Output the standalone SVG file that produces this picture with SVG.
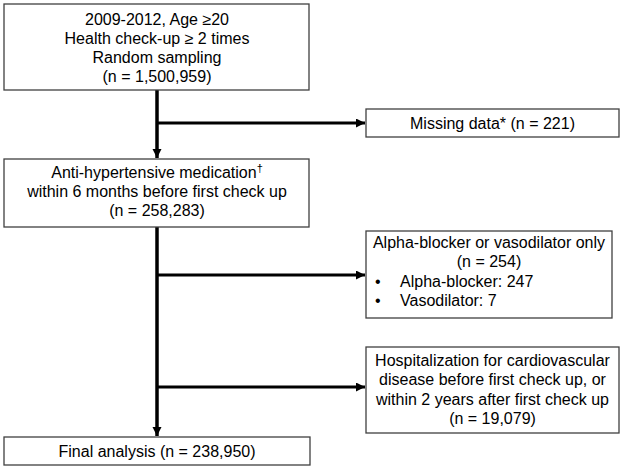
<svg xmlns="http://www.w3.org/2000/svg" width="624" height="470" viewBox="0 0 624 470">
<style>
.box{fill:#fff;stroke:#404040;stroke-width:1.3}
text{font-family:"Liberation Sans",Arial,sans-serif;font-size:16px;fill:#000}
.c{text-anchor:middle}
.ln{stroke:#000;stroke-width:3.5;fill:none}
.br{stroke:#000;stroke-width:3;fill:none}
</style>
<defs>
<marker id="ah" markerUnits="userSpaceOnUse" markerWidth="10" markerHeight="10" refX="9" refY="4.5" orient="auto">
<path d="M0,0 L9,4.5 L0,9 z" fill="#000"/>
</marker>
</defs>
<rect width="624" height="470" fill="#fff"/>
<g id="connectors">
<line class="ln" x1="157" y1="90" x2="157" y2="158" marker-end="url(#ah)"/>
<line class="br" x1="157" y1="123" x2="365" y2="123" marker-end="url(#ah)"/>
<line class="ln" x1="157" y1="227" x2="157" y2="436" marker-end="url(#ah)"/>
<line class="br" x1="157" y1="275" x2="365" y2="275" marker-end="url(#ah)"/>
<line class="br" x1="157" y1="387" x2="365" y2="387" marker-end="url(#ah)"/>
</g>
<g id="n1">
<rect class="box" x="4" y="4" width="305" height="86"/>
<text class="c" x="157" y="25">2009-2012, Age ≥20</text>
<text class="c" x="157" y="44">Health check-up ≥ 2 times</text>
<text class="c" x="157" y="63">Random sampling</text>
<text class="c" x="157" y="82">(n = 1,500,959)</text>
</g>
<g id="n2">
<rect class="box" x="366" y="109" width="253" height="28"/>
<text class="c" x="492.5" y="128.5">Missing data* (n = 221)</text>
</g>
<g id="n3">
<rect class="box" x="4" y="159" width="305" height="68"/>
<text class="c" x="157" y="178">Anti-hypertensive medication<tspan font-size="11" dy="-6">†</tspan></text>
<text class="c" x="157" y="197">within 6 months before first check up</text>
<text class="c" x="157" y="216">(n = 258,283)</text>
</g>
<g id="n4">
<rect class="box" x="366" y="231" width="246" height="87"/>
<text class="c" x="489" y="248">Alpha-blocker or vasodilator only</text>
<text class="c" x="489" y="267">(n = 254)</text>
<text x="375" y="287">•</text>
<text x="400" y="287">Alpha-blocker: 247</text>
<text x="375" y="306">•</text>
<text x="400" y="306">Vasodilator: 7</text>
</g>
<g id="n5">
<rect class="box" x="366" y="347" width="253" height="86"/>
<text class="c" x="492.5" y="366">Hospitalization for cardiovascular</text>
<text class="c" x="492.5" y="385">disease before first check up, or</text>
<text class="c" x="492.5" y="405">within 2 years after first check up</text>
<text class="c" x="492.5" y="424">(n = 19,079)</text>
</g>
<g id="n6">
<rect class="box" x="4" y="437" width="306" height="28"/>
<text class="c" x="157" y="457">Final analysis (n = 238,950)</text>
</g>
</svg>
